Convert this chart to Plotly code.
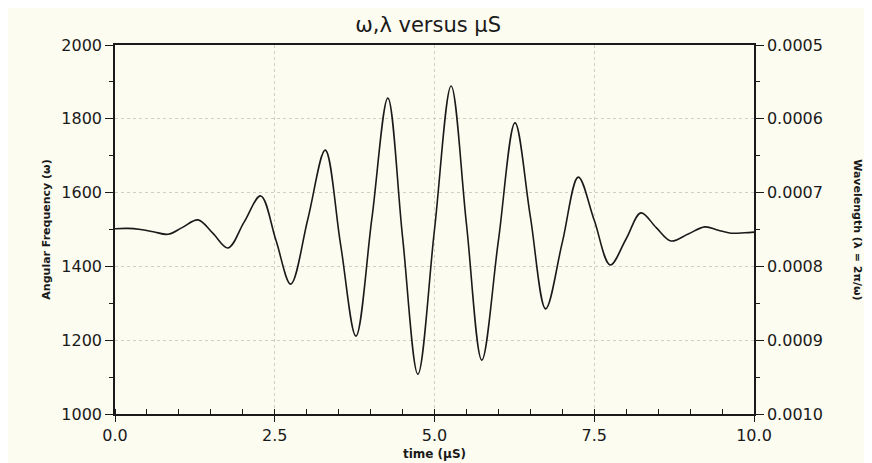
import plotly.graph_objects as go

# readings (time in uS, angular frequency)
time_us = [0.0, 0.2, 0.4, 0.6, 0.83, 1.05, 1.3, 1.53, 1.77, 2.02, 2.28, 2.52, 2.75,
           3.02, 3.29, 3.53, 3.77, 4.02, 4.27, 4.5, 4.74, 5.0, 5.26, 5.5, 5.74,
           6.0, 6.26, 6.5, 6.74, 7.0, 7.25, 7.5, 7.75, 8.0, 8.23, 8.47, 8.7,
           8.97, 9.23, 9.44, 9.64, 9.85, 10.0]
omega = [1502, 1503, 1500, 1494, 1487, 1505, 1526, 1490, 1450, 1520, 1591, 1470, 1352,
         1530, 1715, 1460, 1211, 1530, 1856, 1480, 1108, 1500, 1889, 1515, 1146,
         1470, 1789, 1535, 1285, 1465, 1642, 1525, 1404, 1475, 1545, 1505, 1469,
         1488, 1507, 1498, 1490, 1491, 1493]

y_ticks = [1000, 1200, 1400, 1600, 1800, 2000]
x_ticks = [0.0, 2.5, 5.0, 7.5, 10.0]
lam_ticks = [0.0005, 0.0006, 0.0007, 0.0008, 0.0009, 0.0010]

paper = "#fdfcf0"
ink = "#1a1a1a"
grid = "#cfcfc4"
fnt = "DejaVu Sans"

fig = go.Figure()
fig.add_trace(go.Scatter(x=time_us, y=omega, mode="lines", line_shape="spline",
                         line=dict(color=ink, width=1.6), showlegend=False,
                         hoverinfo="x+y"))
# empty trace so the wavelength axis gets drawn
fig.add_trace(go.Scatter(x=[None] * len(lam_ticks), y=lam_ticks, yaxis="y2",
                         mode="lines", showlegend=False, hoverinfo="skip"))

fig.update_layout(
    width=872, height=463,
    paper_bgcolor=paper, plot_bgcolor=paper,
    margin=dict(l=107, r=126, t=37, b=57),
    font=dict(family=fnt, color=ink),
    title=dict(text="ω,λ versus μS", x=0.49, xref="paper", y=0.965, yanchor="middle",
               font=dict(size=21, color=ink)),
    xaxis=dict(range=[0, 10], tickvals=x_ticks, ticktext=["0.0", "2.5", "5.0", "7.5", "10.0"],
               showline=True, linecolor=ink, linewidth=1.5, mirror=True,
               ticks="outside", ticklen=6, tickcolor=ink, tickfont=dict(size=16),
               minor=dict(dtick=0.5, ticks="inside", ticklen=5, tickcolor=ink, showgrid=False),
               showgrid=True, gridcolor=grid, griddash="dot", gridwidth=1,
               zeroline=False,
               title=dict(text="<b>time (μS)</b>", font=dict(size=12), standoff=6)),
    yaxis=dict(range=[1000, 2000], tickvals=y_ticks,
               showline=True, linecolor=ink, linewidth=1.5,
               ticks="outside", ticklen=8, tickcolor=ink, tickfont=dict(size=16),
               minor=dict(dtick=100, ticks="outside", ticklen=4, tickcolor=ink, showgrid=False),
               showgrid=True, gridcolor=grid, griddash="dot", gridwidth=1,
               zeroline=False,
               title=dict(text="<b>Angular Frequency (ω)</b>", font=dict(size=11), standoff=8)),
    yaxis2=dict(range=[0.0010, 0.0005], overlaying="y", side="right", anchor="x",
                tickvals=lam_ticks, ticktext=["%.4f" % v for v in lam_ticks],
                showline=True, linecolor=ink, linewidth=1.5,
                ticks="outside", ticklen=8, tickcolor=ink, tickfont=dict(size=16),
                minor=dict(dtick=0.00005, ticks="outside", ticklen=4, tickcolor=ink),
                showgrid=False, zeroline=False),
)

fig.add_annotation(text="<b>Wavelength (λ = 2π/ω)</b>", textangle=90,
                   xref="paper", yref="paper", x=1.175, y=0.5,
                   showarrow=False, font=dict(size=11, color=ink))

fig.write_html("out.html")
